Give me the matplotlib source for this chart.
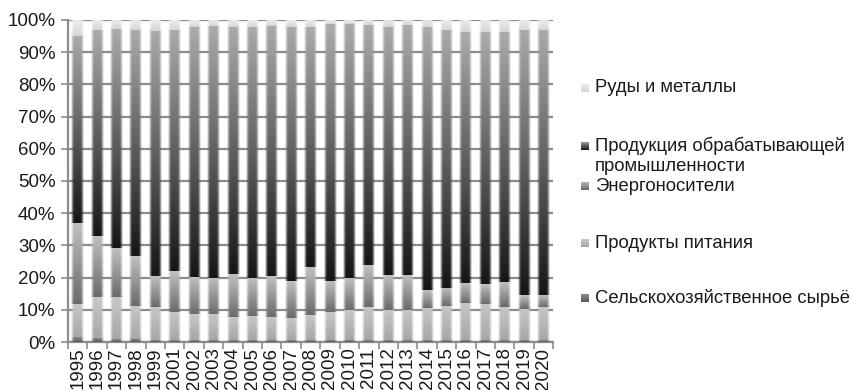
import matplotlib
matplotlib.use("Agg")
import matplotlib.pyplot as plt
from matplotlib.patches import Rectangle
from matplotlib.colors import to_rgb
import numpy as np

plt.rcParams['font.family'] = ['Liberation Sans', 'DejaVu Sans']

years = ["1995", "1996", "1997", "1998", "1999", "2001", "2002", "2003", "2004",
         "2005", "2006", "2007", "2008", "2009", "2010", "2011", "2012", "2013",
         "2014", "2015", "2016", "2017", "2018", "2019", "2020"]

# доли групп товаров, % (снизу вверх)
agri = [1.5, 1.2, 0.8, 1.0, 0.6, 0.5, 0.5, 0.5, 0.5, 0.5, 0.5, 0.5, 0.5,
        0.5, 0.5, 0.5, 0.5, 0.5, 0.5, 0.5, 0.5, 0.5, 0.5, 0.5, 0.5]
food = [10.4, 12.7, 13.3, 10.3, 10.4, 8.7, 8.3, 8.3, 7.4, 7.7, 7.4, 7.1, 8.0,
        8.7, 9.5, 10.5, 9.5, 9.5, 10.2, 10.7, 11.7, 11.4, 10.5, 9.9, 10.4]
energy = [25.1, 19.1, 15.2, 15.4, 9.6, 12.7, 11.4, 11.2, 13.2, 11.8, 12.6, 11.2, 14.9,
          9.9, 9.9, 12.9, 10.8, 10.8, 5.5, 5.6, 6.2, 6.1, 7.7, 4.2, 3.7]
manuf = [58.1, 63.9, 67.9, 70.2, 76.1, 75.0, 77.7, 78.2, 76.8, 77.9, 77.7, 79.1, 74.5,
         79.7, 78.9, 74.4, 77.0, 77.5, 81.6, 80.1, 77.7, 78.1, 77.4, 82.3, 82.3]
ores = [4.9, 3.1, 2.8, 3.1, 3.3, 3.1, 2.1, 1.8, 2.1, 2.1, 1.8, 2.1, 2.1,
        1.2, 1.2, 1.7, 2.2, 1.7, 2.2, 3.1, 3.9, 3.9, 3.9, 3.1, 3.1]

# название, значения, цвет низа и верха градиента
series = [
    ("Сельскохозяйственное сырьё", agri, "#5a5a5a", "#8a8a8a"),
    ("Продукты питания", food, "#a6a6a6", "#c8c8c8"),
    ("Энергоносители", energy, "#6a6a6a", "#c0c0c0"),
    ("Продукция обрабатывающей\nпромышленности", manuf, "#161616", "#aaaaaa"),
    ("Руды и металлы", ores, "#d6d6d6", "#ececec"),
]

fig = plt.figure(figsize=(8.55, 3.9), dpi=100)
ax = fig.add_axes([0.0795, 0.123, 0.5675, 0.826])

n = len(years)
x = np.arange(n)
width = 0.66
edge = 0.22  # доля ширины с мягким краем

# горизонтальный профиль прозрачности (мягкие края столбцов)
cols = 40
u = np.linspace(0, 1, cols)
alpha_x = np.clip(np.minimum(u, 1 - u) / edge, 0, 1) ** 0.8


def gradient_img(c_bot, c_top, rows=64, alpha=alpha_x):
    b = np.array(to_rgb(c_bot))
    t = np.array(to_rgb(c_top))
    v = np.linspace(0, 1, rows)[:, None]
    rgb = b + (t - b) * v
    img = np.zeros((rows, len(alpha), 4))
    img[:, :, :3] = rgb[:, None, :]
    img[:, :, 3] = alpha[None, :]
    return img


bottom = np.zeros(n)
for name, vals, c_bot, c_top in series:
    vals = np.array(vals)
    img = gradient_img(c_bot, c_top)
    for i in range(n):
        ax.imshow(img, extent=(x[i] - width / 2, x[i] + width / 2,
                               bottom[i], bottom[i] + vals[i]),
                  origin="lower", aspect="auto", interpolation="bilinear",
                  zorder=3)
    bottom += vals

ax.set_xlim(-0.5, n - 0.5)
ax.set_ylim(0, 100)

ax.set_yticks(np.arange(0, 101, 10))
ax.set_yticklabels([f"{v}%" for v in range(0, 101, 10)], fontsize=13.5,
                   color="#1a1a1a")
ax.yaxis.grid(True, color="#8c8c8c", linewidth=1.6)
ax.set_axisbelow(True)

ax.set_xticks(x)
ax.set_xticklabels(years, rotation=90, fontsize=13.5, color="#1a1a1a")
ax.set_xticks(np.arange(-0.5, n, 1), minor=True)
ax.tick_params(axis="x", which="major", length=0, pad=4)
ax.tick_params(axis="x", which="minor", length=5, color="#8c8c8c", width=1.2)
ax.tick_params(axis="y", length=5, color="#8c8c8c", width=1.2, pad=4)

for s in ["top", "right"]:
    ax.spines[s].set_visible(False)
for s in ["left", "bottom"]:
    ax.spines[s].set_color("#8c8c8c")
    ax.spines[s].set_linewidth(1.6)

# легенда справа
legend_items = list(reversed(series))
legend_y = [88, 146, 186, 243, 298]
marker_alpha = np.ones(8)
for (name, vals, c_bot, c_top), yp in zip(legend_items, legend_y):
    yf = 1 - yp / 390
    box = fig.add_axes([581 / 855, yf - 4 / 390, 8 / 855, 8 / 390])
    box.imshow(gradient_img(c_bot, c_top, rows=16, alpha=marker_alpha),
               origin="lower", aspect="auto", extent=(0, 1, 0, 1))
    box.axis("off")
    if "\n" in name:
        fig.text(595 / 855, yf + 9 / 390, name, fontsize=13.3, va="top",
                 ha="left", linespacing=1.2, color="#1a1a1a")
    else:
        fig.text(595 / 855, yf, name, fontsize=13.3, va="center", ha="left",
                 color="#1a1a1a")

fig.savefig("out.png", dpi=100)
